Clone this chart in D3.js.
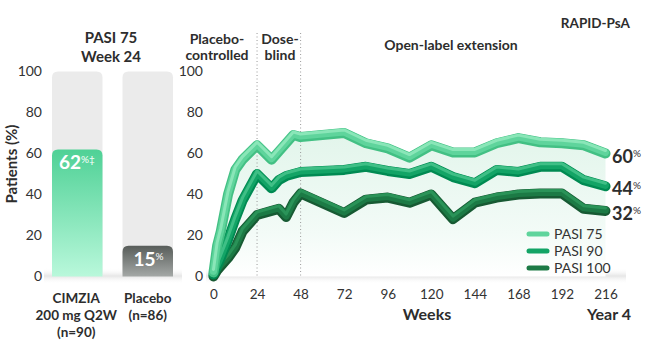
<!DOCTYPE html>
<html>
<head>
<meta charset="utf-8">
<script src="https://cdn.jsdelivr.net/npm/d3@7"></script>
<style>
  body { margin: 0; background: #fff; }
  svg text { font-family: Lato, "Noto Sans", sans-serif; fill: #2d2d2d; }
</style>
</head>
<body>
<div id="chart"></div>
<script>
var width = 650, height = 352;

// ---- data ----
var barCategories = ["CIMZIA", "Placebo"];
var barValues = [62, 15];
var barLabels = [["CIMZIA", "200 mg Q2W", "(n=90)"], ["Placebo", "(n=86)"]];
var barMarks = ["%\u2021", "%"];

var weeks = [0, 2, 4, 8, 12, 16, 24, 32, 36, 40, 44, 48, 72, 84, 96, 108, 120, 132, 144, 156, 168, 180, 192, 204, 216];
var pasi75 = [2, 15, 22, 40, 52, 57, 64, 57, 61, 65, 69, 68, 70, 65, 62.5, 58, 64, 60.5, 60.5, 65, 67.5, 65.5, 65, 64, 60];
var pasi90 = [1, 5, 9, 18, 28, 37, 50, 43, 47, 49, 50, 51, 52, 53.5, 51.5, 50, 53.5, 48.5, 45.5, 52, 51, 53.5, 53.5, 47, 44];
var pasi100 = [0, 3, 5, 9, 14, 22, 30, 32, 33, 29, 36, 40.5, 31, 37.5, 38.5, 36, 40, 28, 36, 38.5, 40, 40.5, 40.5, 33, 32];
var seriesNames = ["PASI 75", "PASI 90", "PASI 100"];
var weekTicks = [0, 24, 48, 72, 96, 120, 144, 168, 192, 216];
var yTicks = [0, 20, 40, 60, 80, 100];
var phaseWeeks = [24, 48];

var colors = [
    { light: "#8ae6b8", mid: "#5fd49c", dark: "#43c084" },
    { light: "#3fbf86", mid: "#13a466", dark: "#008a52" },
    { light: "#2a9358", mid: "#1c7a45", dark: "#175a33" }
];

var svg = d3.select("#chart").append("svg")
    .attr("width", width)
    .attr("height", height);

var defs = svg.append("defs");

function vGrad(id, stops) {
    var g = defs.append("linearGradient").attr("id", id)
        .attr("x1", 0).attr("y1", 0).attr("x2", 0).attr("y2", 1);
    stops.forEach(function (s) {
        g.append("stop").attr("offset", s[0]).attr("stop-color", s[1]).attr("stop-opacity", s[2] == null ? 1 : s[2]);
    });
}
vGrad("gCim", [[0, "#4fd196"], [1, "#b9f8db"]]);
vGrad("gPla", [[0, "#585d5a"], [1, "#a4a8a6"]]);
vGrad("gArea", [[0, "#e2f5eb"], [0.7, "#f3fbf7"], [1, "#ffffff"]]);
vGrad("gFloor", [[0, "#ffffff", 0], [0.5, "#e6e6e6", 1], [1, "#ffffff", 0]]);

var y = d3.scaleLinear().domain([0, 100]).range([276.5, 71.5]);

function topRounded(x0, y0, w, h, r) {
    return "M" + x0 + "," + (y0 + h) +
        "V" + (y0 + r) +
        "Q" + x0 + "," + y0 + " " + (x0 + r) + "," + y0 +
        "H" + (x0 + w - r) +
        "Q" + (x0 + w) + "," + y0 + " " + (x0 + w) + "," + (y0 + r) +
        "V" + (y0 + h) + "Z";
}

// ---- left panel: bars ----
var xb = d3.scaleBand().domain(barCategories).range([52, 173]).paddingInner(0.284).paddingOuter(0);

svg.append("rect").attr("x", 44).attr("y", 268).attr("width", 138).attr("height", 16)
    .attr("fill", "url(#gFloor)");

svg.append("g").selectAll("path").data(barCategories).join("path")
    .attr("d", function (d) { return topRounded(xb(d), y(100), xb.bandwidth(), y(0) - y(100), 6); })
    .attr("fill", "#ebebeb");

svg.append("g").selectAll("path").data(barValues).join("path")
    .attr("d", function (d, i) { return topRounded(xb(barCategories[i]), y(d), xb.bandwidth(), y(0) - y(d), 6); })
    .attr("fill", function (d, i) { return i == 0 ? "url(#gCim)" : "url(#gPla)"; });

var vl = svg.append("g").selectAll("text").data(barValues).join("text")
    .attr("x", function (d, i) { return xb(barCategories[i]) + (i == 0 ? 7 : 11); })
    .attr("y", function (d) { return y(d) + 20; })
    .attr("font-size", 19)
    .attr("font-weight", 700)
    .style("fill", "#fff");
vl.append("tspan").text(function (d) { return d; });
vl.append("tspan").attr("font-size", 10).attr("font-weight", 400).attr("dy", -6)
    .text(function (d, i) { return barMarks[i]; });

svg.append("g")
    .attr("transform", "translate(42,0)")
    .call(d3.axisLeft(y).tickValues(yTicks).tickSize(0).tickPadding(0))
    .call(function (g) { g.select(".domain").remove(); })
    .selectAll("text").attr("font-size", 14).style("font-family", "Lato").style("fill", "#333");

svg.append("text")
    .attr("transform", "translate(17,164) rotate(-90)")
    .attr("text-anchor", "middle")
    .attr("font-size", 15).attr("font-weight", 700)
    .text("Patients (%)");

svg.append("text").attr("x", 111).attr("y", 43).attr("text-anchor", "middle")
    .attr("font-size", 15).attr("font-weight", 700).text("PASI 75");
svg.append("text").attr("x", 111).attr("y", 62).attr("text-anchor", "middle")
    .attr("font-size", 15).attr("font-weight", 700).text("Week 24");

barLabels.forEach(function (lines, i) {
    var t = svg.append("text")
        .attr("text-anchor", "middle")
        .attr("font-size", 13.5).attr("font-weight", 700);
    lines.forEach(function (l, j) {
        t.append("tspan").attr("x", xb(barCategories[i]) + xb.bandwidth() / 2 + (i == 0 ? -1 : 0))
            .attr("y", 303 + j * 17).text(l);
    });
});

// ---- right panel: lines ----
var x = d3.scaleLinear().domain([0, 216]).range([213.5, 605.5]);

svg.append("rect").attr("x", 206).attr("y", 268).attr("width", 420).attr("height", 16)
    .attr("fill", "url(#gFloor)");

var area = d3.area()
    .x(function (d, i) { return x(weeks[i]); })
    .y0(y(0))
    .y1(function (d) { return y(d); });

svg.append("path")
    .attr("d", area(pasi75))
    .attr("fill", "url(#gArea)");

svg.append("g").selectAll("line").data(phaseWeeks).join("line")
    .attr("x1", function (d) { return x(d); }).attr("x2", function (d) { return x(d); })
    .attr("y1", 33).attr("y2", y(0))
    .attr("stroke", "#9a9a9a").attr("stroke-width", 1)
    .attr("stroke-dasharray", "1,2.5");

var line = d3.line()
    .x(function (d, i) { return x(weeks[i]); })
    .y(function (d) { return y(d); });

var allSeries = [pasi75, pasi90, pasi100];
for (var k = 2; k >= 0; k--) {
    var g = svg.append("g");
    g.append("path").attr("d", line(allSeries[k]))
        .attr("fill", "none").attr("stroke", colors[k].dark)
        .attr("stroke-width", 10).attr("stroke-linejoin", "round").attr("stroke-linecap", "round");
    g.append("path").attr("d", line(allSeries[k]))
        .attr("transform", "translate(0,-1)")
        .attr("fill", "none").attr("stroke", colors[k].mid)
        .attr("stroke-width", 7).attr("stroke-linejoin", "round").attr("stroke-linecap", "round");
    g.append("path").attr("d", line(allSeries[k]))
        .attr("transform", "translate(0,-3)")
        .attr("fill", "none").attr("stroke", colors[k].light)
        .attr("stroke-width", 3).attr("stroke-linejoin", "round").attr("stroke-linecap", "round");
}

svg.append("g")
    .attr("transform", "translate(203,0)")
    .call(d3.axisLeft(y).tickValues(yTicks).tickSize(0).tickPadding(0))
    .call(function (g) { g.select(".domain").remove(); })
    .selectAll("text").attr("font-size", 14).style("font-family", "Lato").style("fill", "#333");

svg.append("g")
    .attr("transform", "translate(0," + y(0) + ")")
    .call(d3.axisBottom(x).tickValues(weekTicks).tickSize(0).tickPadding(13))
    .call(function (g) { g.select(".domain").remove(); })
    .selectAll("text").attr("font-size", 13.5).style("font-family", "Lato").style("fill", "#333");

// end labels
var ends = svg.append("g").selectAll("text").data(allSeries).join("text")
    .attr("x", 612)
    .attr("y", function (d) { return y(d[d.length - 1]) + 9; })
    .attr("font-size", 18).attr("font-weight", 700);
ends.append("tspan").text(function (d) { return d[d.length - 1]; });
ends.append("tspan").attr("font-size", 10).attr("font-weight", 400).attr("dy", -6).text("%");

// legend
var lg = svg.append("g").selectAll("g").data(seriesNames).join("g")
    .attr("transform", function (d, i) { return "translate(529," + (234 + i * 17) + ")"; });
lg.append("line").attr("x1", 0).attr("x2", 18)
    .attr("stroke", function (d, i) { return colors[i].mid; })
    .attr("stroke-width", 5).attr("stroke-linecap", "round");
lg.append("text").attr("x", 25).attr("y", 5).attr("font-size", 14).style("fill", "#333")
    .text(function (d) { return d; });

// headers
function header(lines, cx, y0) {
    var t = svg.append("text").attr("text-anchor", "middle").attr("font-size", 14).attr("font-weight", 700);
    lines.forEach(function (l, j) {
        t.append("tspan").attr("x", cx).attr("y", y0 + j * 16).text(l);
    });
}
header(["Placebo-", "controlled"], 217, 44);
header(["Dose-", "blind"], 280, 44);
header(["Open-label extension"], 451, 50);

svg.append("text").attr("x", 630).attr("y", 28).attr("text-anchor", "end")
    .attr("font-size", 13.5).attr("font-weight", 700).text("RAPID-PsA");

svg.append("text").attr("x", 427).attr("y", 320).attr("text-anchor", "middle")
    .attr("font-size", 16).attr("font-weight", 700).text("Weeks");
svg.append("text").attr("x", 631).attr("y", 320).attr("text-anchor", "end")
    .attr("font-size", 16).attr("font-weight", 700).text("Year 4");
</script>
</body>
</html>
